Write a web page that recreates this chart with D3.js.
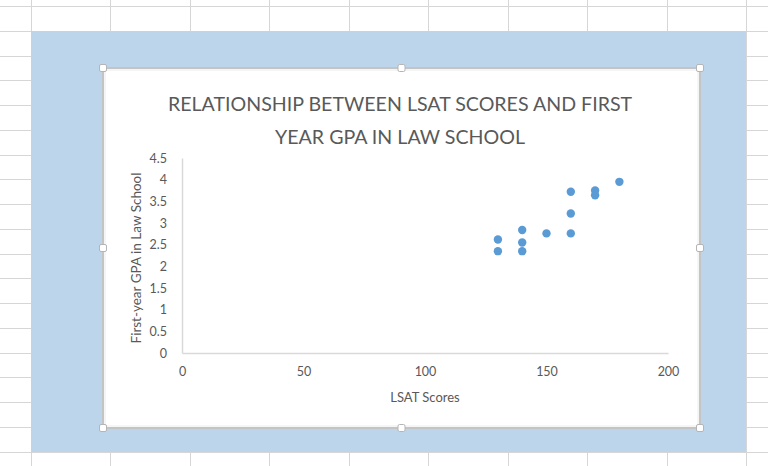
<!DOCTYPE html>
<html>
<head>
<meta charset="utf-8">
<script src="https://cdn.jsdelivr.net/npm/d3@7"></script>
<style>
  html, body { margin: 0; padding: 0; background: #ffffff; }
  svg { display: block; }
  text { font-family: Lato, "Open Sans", sans-serif; }
</style>
</head>
<body>
<script>
// LSAT score and first-year GPA for each student
const lsatScores = [130, 130, 140, 140, 140, 150, 160, 160, 160, 170, 170, 180];
const firstYearGpa = [2.62, 2.35, 2.84, 2.55, 2.35, 2.76, 3.72, 3.22, 2.76, 3.75, 3.64, 3.95];

const xTicks = [0, 50, 100, 150, 200];
const yTicks = [0, 0.5, 1, 1.5, 2, 2.5, 3, 3.5, 4, 4.5];

const titleLines = ["RELATIONSHIP BETWEEN LSAT SCORES AND FIRST", "YEAR GPA IN LAW SCHOOL"];
const xTitle = "LSAT Scores";
const yTitle = "First-year GPA in Law School";

const W = 768, H = 466;
const svg = d3.select("body").append("svg").attr("width", W).attr("height", H);

// worksheet cell grid behind the chart
const grid = svg.append("g").attr("stroke", "#d6d6d6").attr("stroke-width", 1);
d3.range(0, 10).forEach(i => {
  const x = Math.round(31 + i * 79.45) + 0.5;
  grid.append("line").attr("x1", x).attr("x2", x).attr("y1", 0).attr("y2", H);
});
d3.range(0, 19).forEach(i => {
  const y = Math.round(6 + i * 24.75) + 0.5;
  grid.append("line").attr("x1", 0).attr("x2", W).attr("y1", y).attr("y2", y);
});

// highlighted range
svg.append("rect").attr("x", 31).attr("y", 31).attr("width", 715).attr("height", 421)
  .attr("fill", "#bdd5eb");

// chart object
const frame = { x: 103, y: 68, w: 597, h: 360 };
svg.append("rect").attr("x", frame.x).attr("y", frame.y).attr("width", frame.w).attr("height", frame.h)
  .attr("fill", "#ffffff").attr("stroke", "#c4c4c4").attr("stroke-width", 2);
svg.append("rect").attr("x", frame.x + 2).attr("y", frame.y + 2).attr("width", frame.w - 4).attr("height", frame.h - 4)
  .attr("fill", "none").attr("stroke", "#ececec").attr("stroke-width", 1);

// title
svg.append("g").selectAll("text").data(titleLines).join("text")
  .attr("x", 400).attr("y", (d, i) => 111 + i * 33)
  .attr("text-anchor", "middle")
  .attr("fill", "#595959")
  .attr("font-size", 19.6)
  .text(d => d);

// scales
const x = d3.scaleLinear().domain([0, 200]).range([182, 668]);
const y = d3.scaleLinear().domain([0, 4.5]).range([353, 158]);

// x axis
const xAxis = svg.append("g").attr("transform", `translate(0,${y(0)})`)
  .call(d3.axisBottom(x).tickValues(xTicks).tickSize(0).tickPadding(14).tickFormat(d3.format("d")));
xAxis.select(".domain").attr("stroke", "#d9d9d9").attr("stroke-width", 1.5);
xAxis.selectAll("text").attr("fill", "#595959").attr("font-size", 12.5)
  .attr("font-family", "Lato, 'Open Sans', sans-serif");

// y axis
const yAxis = svg.append("g").attr("transform", `translate(${x(0)},0)`)
  .call(d3.axisLeft(y).tickValues(yTicks).tickSize(0).tickPadding(15).tickFormat(d => String(d)));
yAxis.select(".domain").attr("stroke", "#d9d9d9").attr("stroke-width", 1.5);
yAxis.selectAll("text").attr("fill", "#595959").attr("font-size", 12.5)
  .attr("font-family", "Lato, 'Open Sans', sans-serif");

// axis titles
svg.append("text").attr("x", 425).attr("y", 402).attr("text-anchor", "middle")
  .attr("fill", "#595959").attr("font-size", 13).text(xTitle);
svg.append("text").attr("transform", `translate(141,258) rotate(-90)`)
  .attr("text-anchor", "middle").attr("fill", "#595959").attr("font-size", 13.5).text(yTitle);

// points
svg.append("g").selectAll("circle").data(lsatScores.map((v, i) => [v, firstYearGpa[i]])).join("circle")
  .attr("cx", d => x(d[0])).attr("cy", d => y(d[1])).attr("r", 4.2)
  .attr("fill", "#5b9bd5");

// selection handles around the chart
const handles = [];
[0, 0.5, 1].forEach(fx => [0, 0.5, 1].forEach(fy => {
  if (fx === 0.5 && fy === 0.5) return;
  handles.push([frame.x + fx * frame.w, frame.y + fy * frame.h]);
}));
svg.append("g").selectAll("rect").data(handles).join("rect")
  .attr("x", d => d[0] - 3.5).attr("y", d => d[1] - 3.5).attr("width", 7).attr("height", 7)
  .attr("rx", 1.5).attr("fill", "#ffffff").attr("stroke", "#b5b5b5").attr("stroke-width", 1);
</script>
</body>
</html>
